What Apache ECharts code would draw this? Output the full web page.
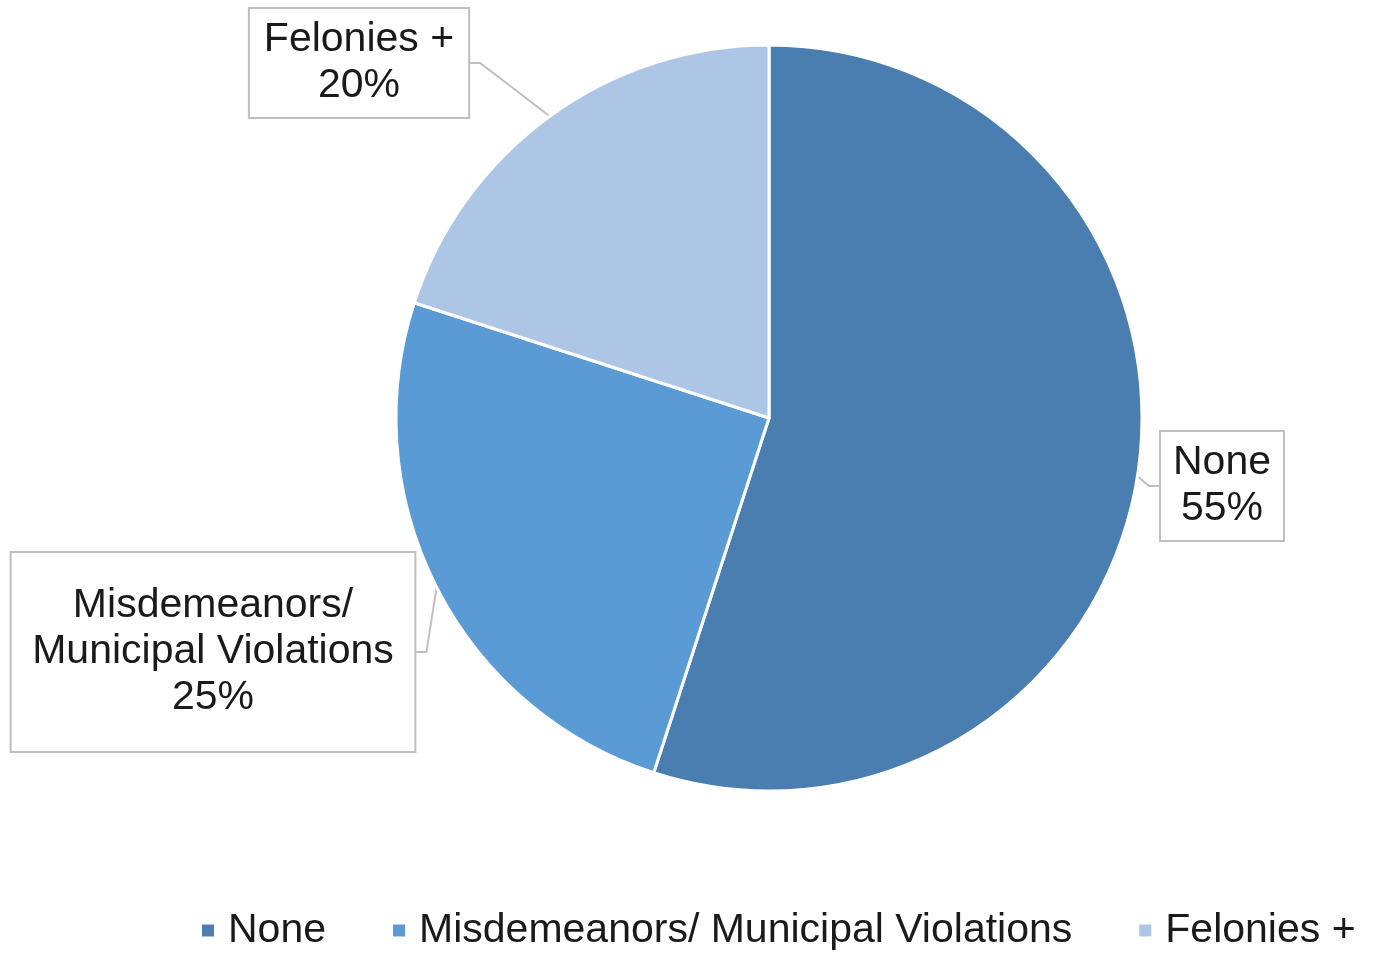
<!DOCTYPE html>
<html>
<head>
<meta charset="utf-8">
<script src="https://cdn.jsdelivr.net/npm/echarts@6/dist/echarts.min.js"></script>
<style>
  html, body { margin: 0; padding: 0; background: #fff; }
  #chart { width: 1373px; height: 956px; }
</style>
</head>
<body>
<div id="chart"></div>
<script>
// 数据
const categories = ['None', 'Misdemeanors/ Municipal Violations', 'Felonies +']
const labelNames = ['None', 'Misdemeanors/\nMunicipal Violations', 'Felonies +']
const values = [55, 25, 20]
const colors = ['#4A7EB0', '#5B9BD5', '#ADC6E6']

// 标签框位置
const labelBoxes = [
  { x: 1222, y: 486, padding: [8, 12, 8, 12] },
  { x: 213, y: 652, padding: [30, 22, 30, 22] },
  { x: 359, y: 63, padding: [8, 14, 8, 14] }
]

const chart = echarts.init(document.getElementById('chart'))

const option = {
  color: colors,
  textStyle: { fontFamily: 'Liberation Sans, Arial, sans-serif' },
  legend: {
    data: categories,
    bottom: 0,
    left: 195,
    icon: 'rect',
    itemWidth: 14,
    itemHeight: 14,
    itemGap: 65,
    textStyle: { fontSize: 41, color: '#1a1a1a', padding: [0, 0, 0, 8] }
  },
  series: [
    {
      type: 'pie',
      center: [769, 418],
      radius: 373,
      startAngle: 90,
      clockwise: true,
      data: categories.map((name, i) => ({
        name: name,
        value: values[i],
        label: { padding: labelBoxes[i].padding }
      })),
      itemStyle: { borderColor: '#fff', borderWidth: 3 },
      label: {
        show: true,
        position: 'outside',
        formatter: p => labelNames[p.dataIndex] + '\n' + p.value + '%',
        fontSize: 41,
        lineHeight: 46,
        color: '#1a1a1a',
        align: 'center',
        overflow: 'none',
        backgroundColor: '#fff',
        borderColor: '#bfbfbf',
        borderWidth: 2
      },
      labelLine: {
        show: true,
        length: 10,
        length2: 10,
        lineStyle: { color: '#bfbfbf', width: 2 }
      },
      labelLayout: params => {
        const b = labelBoxes[params.dataIndex]
        return {
          x: b.x,
          y: b.y,
          align: 'center',
          verticalAlign: 'middle'
        }
      },
      emphasis: { disabled: true }
    }
  ]
}

chart.setOption(option)
</script>
</body>
</html>
